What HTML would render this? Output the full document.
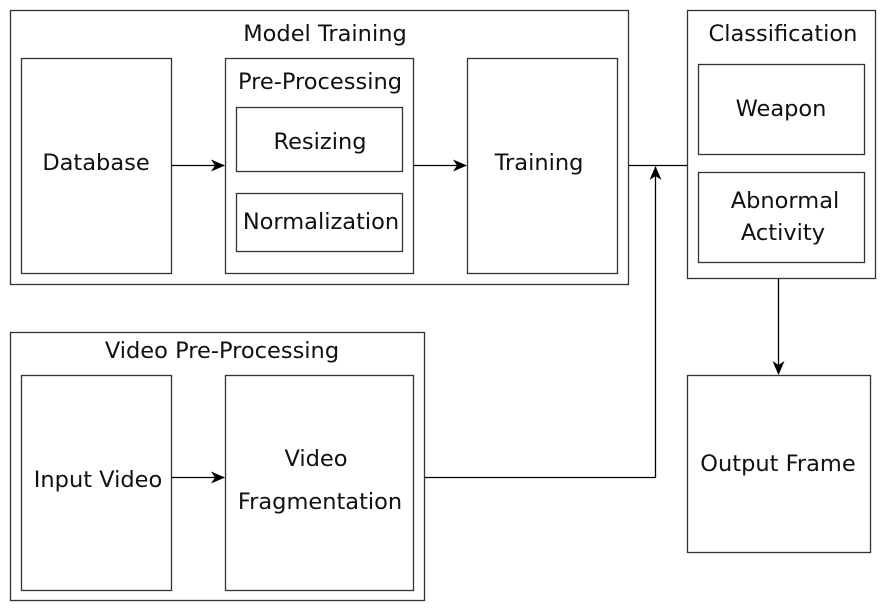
<!DOCTYPE html>
<html><head><meta charset="utf-8"><style>
html,body{margin:0;padding:0;background:#fff;}
svg text{font-family:"DejaVu Sans","Liberation Sans",sans-serif;font-size:22.5px;fill:#111;text-anchor:middle;}
</style></head><body>
<svg width="880" height="607" viewBox="0 0 880 607" xmlns="http://www.w3.org/2000/svg">
<defs><marker id="a" markerWidth="14" markerHeight="12" refX="13" refY="6" orient="auto" markerUnits="userSpaceOnUse"><path d="M0,0 L14,6 L0,12 L4,6 z" fill="#000"/></marker></defs>
<g fill="none" stroke="#333" stroke-width="1.3">
<rect x="10.5" y="10.5" width="618" height="274"/>
<rect x="21.5" y="58.5" width="150" height="215"/>
<rect x="225.5" y="58.5" width="188" height="215"/>
<rect x="236.5" y="107.5" width="166" height="64"/>
<rect x="236.5" y="193.5" width="166" height="58"/>
<rect x="467.5" y="58.5" width="150" height="215"/>
<rect x="687.5" y="10.5" width="188" height="268"/>
<rect x="698.5" y="64.5" width="166" height="90"/>
<rect x="698.5" y="172.5" width="166" height="90"/>
<rect x="687.5" y="375.5" width="183" height="177"/>
<rect x="10.5" y="332.5" width="414" height="268"/>
<rect x="21.5" y="375.5" width="150" height="215"/>
<rect x="225.5" y="375.5" width="188" height="215"/>
</g>
<g fill="none" stroke="#000" stroke-width="1.3">
<path d="M171.5,165.5 H224" marker-end="url(#a)"/>
<path d="M413.5,165.5 H466" marker-end="url(#a)"/>
<path d="M628.5,165.5 H687.5"/>
<path d="M778.5,278.5 V374" marker-end="url(#a)"/>
<path d="M171.5,477.5 H224" marker-end="url(#a)"/>
<path d="M424.5,477.5 H655.5 V167" marker-end="url(#a)"/>
</g>
<text x="325" y="41">Model Training</text>
<text x="96" y="170">Database</text>
<text x="320" y="89">Pre-Processing</text>
<text x="320" y="149">Resizing</text>
<text x="321" y="229">Normalization</text>
<text x="539" y="170">Training</text>
<text x="783" y="41">Classification</text>
<text x="781" y="116">Weapon</text>
<text x="785" y="208">Abnormal</text>
<text x="783" y="240">Activity</text>
<text x="778" y="471">Output Frame</text>
<text x="222" y="358">Video Pre-Processing</text>
<text x="98" y="487">Input Video</text>
<text x="316" y="466">Video</text>
<text x="320" y="509">Fragmentation</text>
</svg>
</body></html>
